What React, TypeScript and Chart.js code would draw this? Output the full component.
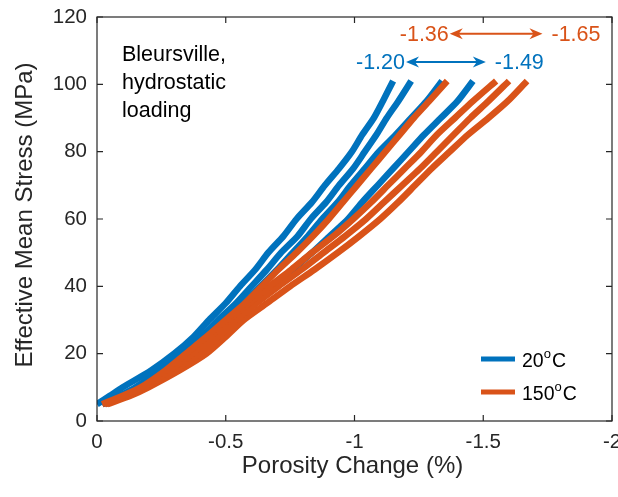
import React, { useEffect, useRef } from "react";
import { Chart, registerables } from "chart.js";
Chart.register(...registerables);

const BLUE = "#0072BD";
const ORANGE = "#D95319";
const AXIS = "#262626";
const FONT = "'Liberation Sans', Arial, Helvetica, sans-serif";

// Effective mean stress levels (MPa) shared by every traced branch
const STRESS = [5, 7.5, 10, 15, 20, 25, 30, 35, 40, 45, 50, 55, 60, 65, 70, 75, 80, 85, 90, 95, 101];

// 20 °C branches: porosity change (%) at each stress level
const BLUE_A1 = [0, -0.05, -0.1, -0.21, -0.3, -0.375, -0.435, -0.5, -0.555, -0.615, -0.665, -0.725, -0.775, -0.835, -0.885, -0.94, -0.99, -1.03, -1.075, -1.11, -1.15];
const BLUE_A2 = [-0.02, -0.09, -0.15, -0.245, -0.33, -0.405, -0.47, -0.54, -0.6, -0.66, -0.715, -0.78, -0.83, -0.89, -0.94, -0.995, -1.04, -1.085, -1.125, -1.17, -1.22];
const BLUE_B = [-0.02, -0.1, -0.165, -0.26, -0.345, -0.425, -0.495, -0.57, -0.635, -0.7, -0.76, -0.82, -0.875, -0.935, -0.985, -1.04, -1.095, -1.16, -1.22, -1.28, -1.34];
const BLUE_C = [-0.03, -0.11, -0.175, -0.275, -0.365, -0.45, -0.525, -0.605, -0.68, -0.76, -0.835, -0.905, -0.975, -1.03, -1.09, -1.15, -1.21, -1.27, -1.335, -1.4, -1.46];

// 150 °C branches
const ORANGE_A = [-0.02, -0.1, -0.17, -0.265, -0.345, -0.425, -0.5, -0.575, -0.64, -0.705, -0.775, -0.84, -0.9, -0.955, -1.01, -1.065, -1.12, -1.175, -1.23, -1.29, -1.36];
const ORANGE_B1 = [-0.03, -0.11, -0.18, -0.28, -0.37, -0.44, -0.51, -0.59, -0.67, -0.755, -0.835, -0.92, -0.995, -1.065, -1.13, -1.195, -1.26, -1.32, -1.39, -1.46, -1.55];
const ORANGE_B2 = [-0.03, -0.12, -0.19, -0.3, -0.395, -0.47, -0.54, -0.62, -0.705, -0.795, -0.88, -0.965, -1.045, -1.115, -1.185, -1.255, -1.32, -1.385, -1.45, -1.52, -1.6];
const ORANGE_C = [-0.04, -0.13, -0.2, -0.32, -0.425, -0.5, -0.57, -0.66, -0.75, -0.845, -0.935, -1.02, -1.1, -1.17, -1.235, -1.3, -1.37, -1.44, -1.52, -1.595, -1.67];

const X_TICKS = [0, -0.5, -1, -1.5, -2];
const X_TICK_LABELS = ["0", "-0.5", "-1", "-1.5", "-2"];
const Y_TICKS = [0, 20, 40, 60, 80, 100, 120];

// Range annotations: [from, to, y]
const BLUE_RANGE = [-1.2, -1.51, 106.6];
const BLUE_RANGE_LABELS = ["-1.20", "-1.49"];
const ORANGE_RANGE = [-1.37, -1.73, 115];
const ORANGE_RANGE_LABELS = ["-1.36", "-1.65"];

const NOTE_LINES = ["Bleursville,", "hydrostatic", "loading"];
const LEGEND = [
  { t: "20", c: BLUE },
  { t: "150", c: ORANGE },
];

function series(xs: number[]) {
  return xs.map((x, i) => ({ x, y: STRESS[i] }));
}

function ds(xs: number[], color: string, order: number) {
  return {
    data: series(xs),
    showLine: true,
    borderColor: color,
    backgroundColor: color,
    borderWidth: 6.5,
    pointRadius: 0,
    tension: 0.25,
    borderJoinStyle: "round",
    order,
  };
}

function arrowHead(ctx: CanvasRenderingContext2D, tipX: number, y: number, dir: number) {
  const L = 13, W = 5.5, N = 4;
  ctx.beginPath();
  ctx.moveTo(tipX, y);
  ctx.lineTo(tipX + dir * L, y - W);
  ctx.lineTo(tipX + dir * (L - N), y);
  ctx.lineTo(tipX + dir * L, y + W);
  ctx.closePath();
  ctx.fill();
}

const decor = {
  id: "decor",
  afterDraw(chart: any) {
    const ctx: CanvasRenderingContext2D = chart.ctx;
    const { left, right, top, bottom } = chart.chartArea;
    const xs = chart.scales.x;
    const ys = chart.scales.y;
    ctx.save();
    ctx.strokeStyle = AXIS;
    ctx.lineWidth = 1.2;
    ctx.strokeRect(left, top, right - left, bottom - top);
    const tl = 6;
    ctx.beginPath();
    X_TICKS.forEach((v) => {
      const p = xs.getPixelForValue(v);
      ctx.moveTo(p, bottom);
      ctx.lineTo(p, bottom - tl);
      ctx.moveTo(p, top);
      ctx.lineTo(p, top + tl);
    });
    Y_TICKS.forEach((v) => {
      const p = ys.getPixelForValue(v);
      ctx.moveTo(left, p);
      ctx.lineTo(left + tl, p);
      ctx.moveTo(right, p);
      ctx.lineTo(right - tl, p);
    });
    ctx.stroke();

    ctx.fillStyle = AXIS;
    ctx.font = `24px ${FONT}`;
    ctx.textAlign = "center";
    ctx.textBaseline = "middle";
    ctx.fillText("Porosity Change (%)", (left + right) / 2 - 2, 466);
    ctx.save();
    ctx.translate(25, (top + bottom) / 2 - 4);
    ctx.rotate(-Math.PI / 2);
    ctx.fillText("Effective Mean Stress (MPa)", 0, 0);
    ctx.restore();

    ctx.fillStyle = "#000";
    ctx.font = `21.5px ${FONT}`;
    ctx.textAlign = "left";
    ctx.textBaseline = "alphabetic";
    NOTE_LINES.forEach((t, i) => ctx.fillText(t, 122, 61 + i * 28));

    const drawRange = (r: number[], labels: string[], color: string) => {
      const x1 = xs.getPixelForValue(r[0]);
      const x2 = xs.getPixelForValue(r[1]);
      const y = ys.getPixelForValue(r[2]);
      ctx.strokeStyle = color;
      ctx.fillStyle = color;
      ctx.lineWidth = 2;
      ctx.beginPath();
      ctx.moveTo(x1 + 8, y);
      ctx.lineTo(x2 - 8, y);
      ctx.stroke();
      arrowHead(ctx, x1, y, 1);
      arrowHead(ctx, x2, y, -1);
      ctx.font = `21.5px ${FONT}`;
      ctx.textBaseline = "middle";
      ctx.textAlign = "right";
      ctx.fillText(labels[0], x1 - 1, y + 1);
      ctx.textAlign = "left";
      ctx.fillText(labels[1], x2 + 9, y + 1);
    };
    drawRange(BLUE_RANGE, BLUE_RANGE_LABELS, BLUE);
    drawRange(ORANGE_RANGE, ORANGE_RANGE_LABELS, ORANGE);

    LEGEND.forEach((e, i) => {
      const y = 359 + i * 33;
      ctx.strokeStyle = e.c;
      ctx.lineWidth = 5;
      ctx.beginPath();
      ctx.moveTo(481, y);
      ctx.lineTo(515, y);
      ctx.stroke();
      ctx.fillStyle = "#000";
      ctx.textAlign = "left";
      ctx.textBaseline = "middle";
      ctx.font = `19.5px ${FONT}`;
      let x = 522;
      ctx.fillText(e.t, x, y + 3);
      x += ctx.measureText(e.t).width;
      ctx.font = `13px ${FONT}`;
      ctx.fillText("o", x, y - 5);
      x += ctx.measureText("o").width + 1;
      ctx.font = `19.5px ${FONT}`;
      ctx.fillText("C", x, y + 3);
    });
    ctx.restore();
  },
};

export default function App() {
  const ref = useRef<HTMLCanvasElement>(null);
  useEffect(() => {
    if (!ref.current) return;
    const chart = new Chart(ref.current, {
      type: "scatter",
      data: {
        datasets: [
          ds(ORANGE_A, ORANGE, 0),
          ds(ORANGE_B1, ORANGE, 0),
          ds(ORANGE_B2, ORANGE, 0),
          ds(ORANGE_C, ORANGE, 0),
          ds(BLUE_A1, BLUE, 1),
          ds(BLUE_A2, BLUE, 1),
          ds(BLUE_B, BLUE, 1),
          ds(BLUE_C, BLUE, 1),
        ] as any,
      },
      options: {
        animation: false,
        responsive: false,
        events: [],
        layout: { padding: { left: 0, top: 17, right: 6, bottom: 0 } },
        plugins: { legend: { display: false }, tooltip: { enabled: false } },
        scales: {
          x: {
            type: "linear",
            min: -2,
            max: 0,
            reverse: true,
            border: { display: false },
            grid: { display: false, drawTicks: false },
            afterBuildTicks: (s: any) => {
              s.ticks = X_TICKS.map((v) => ({ value: v }));
            },
            ticks: {
              padding: 9,
              color: AXIS,
              font: { size: 20.5, family: FONT },
              callback: (v: any) => X_TICK_LABELS[X_TICKS.indexOf(Number(v))] ?? "",
            },
            afterFit: (s: any) => {
              s.height = 76;
              s.paddingLeft = 0;
              s.paddingRight = 0;
            },
          },
          y: {
            type: "linear",
            min: 0,
            max: 120,
            border: { display: false },
            grid: { display: false, drawTicks: false },
            afterBuildTicks: (s: any) => {
              s.ticks = Y_TICKS.map((v) => ({ value: v }));
            },
            ticks: {
              padding: 10,
              color: AXIS,
              font: { size: 20.5, family: FONT },
            },
            afterFit: (s: any) => {
              s.width = 97;
              s.paddingTop = 0;
              s.paddingBottom = 0;
            },
          },
        },
      },
      plugins: [decor],
    });
    return () => chart.destroy();
  }, []);
  return (
    <div style={{ position: "absolute", left: 0, top: 0, width: 618, height: 497, background: "#fff" }}>
      <canvas ref={ref} width={618} height={497} />
    </div>
  );
}
